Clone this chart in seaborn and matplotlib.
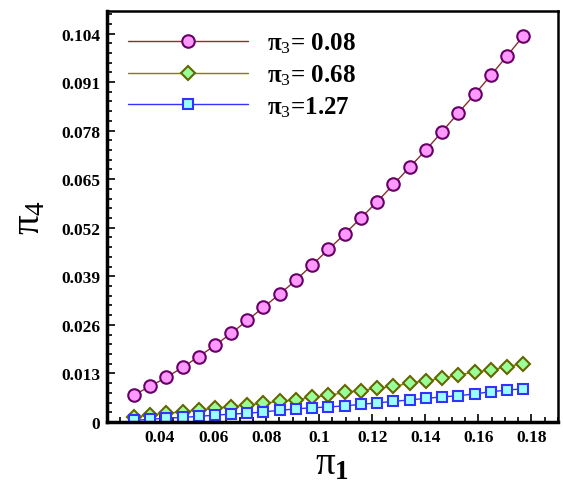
import matplotlib
matplotlib.use('Agg')
import matplotlib.pyplot as plt
import seaborn as sns
from matplotlib.ticker import MultipleLocator, AutoMinorLocator, FuncFormatter

pi1 = [0.0301, 0.0362, 0.0423, 0.0485, 0.0546, 0.0607, 0.0668, 0.0729, 0.0790,
       0.0852, 0.0913, 0.0974, 0.1035, 0.1096, 0.1157, 0.1219, 0.1280, 0.1341,
       0.1402, 0.1463, 0.1524, 0.1586, 0.1647, 0.1708, 0.1769]

pi4_a = [0.0072, 0.0095, 0.0119, 0.0146, 0.0175, 0.0205, 0.0237, 0.0272, 0.0307,
         0.0343, 0.0380, 0.0421, 0.0462, 0.0503, 0.0546, 0.0590, 0.0636, 0.0682,
         0.0728, 0.0777, 0.0827, 0.0877, 0.0928, 0.0980, 0.1033]
pi4_b = [0.00125, 0.0019, 0.0023, 0.0027, 0.0032, 0.0036, 0.0041, 0.0045, 0.0050,
         0.0055, 0.0059, 0.0066, 0.0071, 0.0079, 0.0084, 0.0090, 0.0095, 0.0104,
         0.0110, 0.0117, 0.0125, 0.0134, 0.0139, 0.0148, 0.0156]
pi4_c = [0.0004, 0.0007, 0.0010, 0.0012, 0.0015, 0.0018, 0.0021, 0.0023, 0.0027,
         0.0031, 0.0035, 0.0038, 0.0040, 0.0043, 0.0047, 0.0051, 0.0055, 0.0059,
         0.0063, 0.0067, 0.0070, 0.0075, 0.0081, 0.0085, 0.0089]

labels = ['π$_3$= 0.08', 'π$_3$= 0.68', 'π$_3$=1.27']

sns.set_style('ticks', {'axes.edgecolor': 'black', 'xtick.color': 'black',
                        'ytick.color': 'black', 'text.color': 'black',
                        'axes.labelcolor': 'black'})
plt.rcParams['font.family'] = ['Liberation Serif', 'DejaVu Serif']
plt.rcParams['mathtext.fontset'] = 'custom'
plt.rcParams['mathtext.rm'] = 'Liberation Serif'
plt.rcParams['mathtext.it'] = 'Liberation Serif:italic'
plt.rcParams['mathtext.bf'] = 'Liberation Serif:bold'

fig = plt.figure(figsize=(5.63, 4.85), dpi=100)
ax = fig.add_axes([0.190, 0.128, 0.801, 0.847])

# series styles
sns.lineplot(x=pi1, y=pi4_a, ax=ax, color='#8b2e2e', lw=1.0, marker='o', markersize=9,
             markerfacecolor='#ff99ff', markeredgecolor='#660066', markeredgewidth=1.5,
             label=labels[0])
sns.lineplot(x=pi1, y=pi4_b, ax=ax, color='#808000', lw=1.0, marker='D', markersize=7,
             markerfacecolor='#99ff99', markeredgecolor='#666600', markeredgewidth=1.5,
             label=labels[1])
sns.lineplot(x=pi1, y=pi4_c, ax=ax, color='#3333ff', lw=1.0, marker='s', markersize=7,
             markerfacecolor='#99ffff', markeredgecolor='#3333ff', markeredgewidth=1.5,
             label=labels[2])

ax.set_xlim(0.02, 0.19)
ax.set_ylim(0, 0.11)
ax.xaxis.set_major_locator(MultipleLocator(0.02))
ax.xaxis.set_minor_locator(AutoMinorLocator(4))
ax.yaxis.set_major_locator(MultipleLocator(0.013))
ax.yaxis.set_minor_locator(AutoMinorLocator(5))
fmt = FuncFormatter(lambda v, _: f'{v:.3f}'.rstrip('0').rstrip('.') if v != 0 else '0')
ax.xaxis.set_major_formatter(fmt)
ax.yaxis.set_major_formatter(fmt)
ax.set_xticks([t for t in ax.get_xticks() if 0.03 < t < 0.19])

ax.tick_params(which='both', direction='in', top=False, right=False, width=1.2,
               color='black', labelcolor='black')
ax.tick_params(which='major', length=6, labelsize=12.5, pad=5)
ax.tick_params(which='minor', length=3.5)
for lab in ax.get_xticklabels() + ax.get_yticklabels():
    lab.set_fontweight('bold')

for side, w in [('left', 2.5), ('bottom', 2.5), ('top', 1.8), ('right', 1.8)]:
    ax.spines[side].set_linewidth(w)
    ax.spines[side].set_color('black')

ax.set_xlabel('π$_\\mathbf{1}$', fontsize=28, labelpad=0, color='black')
ax.set_ylabel('π$_4$', fontsize=28, labelpad=9, color='black')

leg = ax.legend(loc='upper left', bbox_to_anchor=(0.047, 0.952), frameon=False,
                handlelength=4.8, handletextpad=0.75, labelspacing=0.28,
                borderpad=0, borderaxespad=0,
                prop={'family': 'Liberation Serif', 'weight': 'bold', 'size': 18})

fig.savefig('out.png', dpi=100)
